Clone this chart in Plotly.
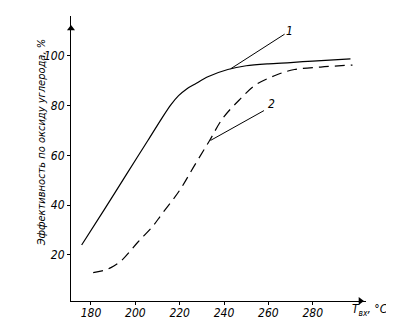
import plotly.graph_objects as go

# Curve 1 (solid)
t1 = [175.8, 186, 196, 205.8, 212, 216, 219.5, 223, 227, 232.7, 241.7, 250, 260, 270, 280, 297]
e1 = [24, 38.2, 52.4, 66.2, 75, 80.3, 84, 86.6, 88.7, 91.6, 94.5, 96.0, 96.8, 97.3, 97.9, 98.8]
# Curve 2 (dashed)
t2 = [181, 185, 189, 193.7, 201, 208, 211.6, 220, 226.7, 233.5, 239.5, 247.7, 253.7, 262.7, 271.7, 283.6, 297.9]
e2 = [12.9, 13.6, 14.9, 17.7, 25, 31.7, 36, 46, 56, 66, 75, 83, 88, 92, 94.5, 95.5, 96.3]

x_ticks = [180, 200, 220, 240, 260, 280]
y_ticks = [20, 40, 60, 80, 100]

# Curve labels and leader lines
lab_text = ["1", "2"]
lab_x = [269.5, 261.5]
lab_y = [110, 80.5]
lead_x0 = [243, 233.9]
lead_y0 = [94.8, 66]
lead_x1 = [267.3, 258]
lead_y1 = [108.7, 78]

X_RANGE = [171, 304]
Y_RANGE = [1.5, 116]

FONT = "Liberation Sans Narrow, DejaVu Sans Condensed, sans-serif"

fig = go.Figure()
fig.add_trace(go.Scatter(x=t1, y=e1, mode="lines", line=dict(color="black", width=1.2, shape="spline", smoothing=0.8),
                         showlegend=False, hoverinfo="skip"))
fig.add_trace(go.Scatter(x=t2, y=e2, mode="lines", line=dict(color="black", width=1.2, shape="spline", dash="10px,6px"),
                         showlegend=False, hoverinfo="skip"))
for i in range(2):
    fig.add_trace(go.Scatter(x=[lead_x0[i], lead_x1[i]], y=[lead_y0[i], lead_y1[i]], mode="lines",
                             line=dict(color="black", width=1), showlegend=False, hoverinfo="skip"))
    fig.add_annotation(x=lab_x[i], y=lab_y[i], text=lab_text[i], showarrow=False,
                       font=dict(family=FONT, size=12, color="black", style="italic"),
                       xanchor="center", yanchor="middle")

# axis arrowheads
fig.add_trace(go.Scatter(x=[X_RANGE[1] - 2.5], y=[Y_RANGE[0]], mode="markers", cliponaxis=False,
                         marker=dict(symbol="triangle-right", size=7, color="black"),
                         showlegend=False, hoverinfo="skip"))
fig.add_trace(go.Scatter(x=[X_RANGE[0]], y=[Y_RANGE[1] - 5], mode="markers", cliponaxis=False,
                         marker=dict(symbol="triangle-up", size=7, color="black"),
                         showlegend=False, hoverinfo="skip"))

# axis titles
fig.add_annotation(x=-0.10, y=0.555, xref="paper", yref="paper", text="Эффективность по оксиду углерода, %",
                   textangle=-90, showarrow=False, xanchor="center", yanchor="middle",
                   font=dict(family=FONT, size=11, color="black", style="italic"))
fig.add_annotation(x=1.08, y=-0.03, xref="paper", yref="paper", text="T<sub>вх</sub>, °C",
                   xanchor="right", yanchor="middle", showarrow=False,
                   font=dict(family=FONT, size=12, color="black", style="italic"))

axis_common = dict(showgrid=False, zeroline=False, showline=True, linecolor="black", linewidth=1.2,
                   ticks="outside", ticklen=3, tickcolor="black", tickwidth=1,
                   tickfont=dict(family=FONT, size=12, color="black", style="italic"))
fig.update_xaxes(range=X_RANGE, tickvals=x_ticks, ticklabelstandoff=-3, **axis_common)
fig.update_yaxes(range=Y_RANGE, tickvals=y_ticks, **axis_common)

fig.update_layout(width=394, height=328, margin=dict(l=63, r=36, t=8, b=35),
                  paper_bgcolor="white", plot_bgcolor="white")

fig.write_html("out.html")
